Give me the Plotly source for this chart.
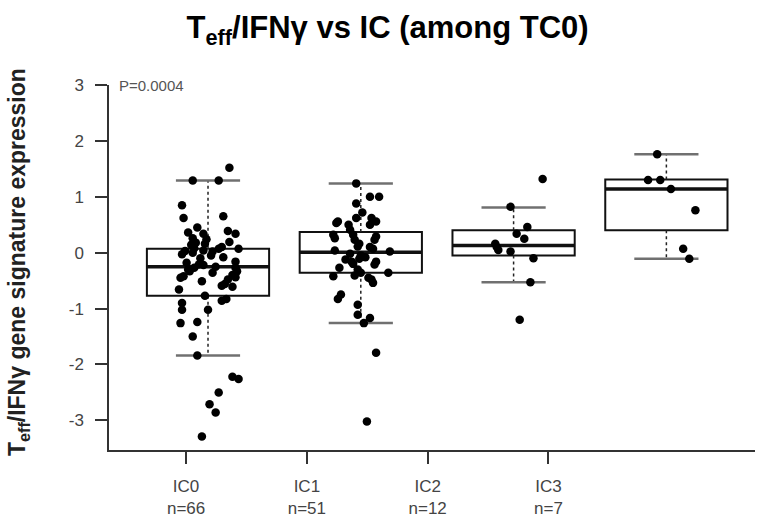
import plotly.graph_objects as go

# ---------------- data ----------------
categories = ["IC0", "IC1", "IC2", "IC3"]
counts = [66, 51, 12, 7]

y_ticks = [-3, -2, -1, 0, 1, 2, 3]
y_tick_labels = ["-3", "-2", "-1", "0", "1", "2", "3"]

q1 = [-0.77, -0.36, -0.05, 0.40]
median = [-0.25, 0.01, 0.13, 1.14]
q3 = [0.07, 0.37, 0.40, 1.31]
lower_whisker = [-1.84, -1.26, -0.53, -0.11]
upper_whisker = [1.29, 1.24, 0.81, 1.76]

ic0_values = [1.52, 1.29, 1.29, 0.85, 0.62, 0.65, 0.39, 0.34, 0.36, 0.34,
              0.26, 0.18, 0.14, 0.24, 0.16, 0.19, 0.07, 0.07, 0.10, 0.02,
              -0.05, 0.04, -0.03, 0.03, 0.00, 0.08, -0.08, -0.16, -0.21, -0.22,
              -0.27, -0.33, -0.36, -0.27, -0.33, -0.40, -0.44, -0.45, -0.42, -0.51,
              -0.56, -0.59, -0.61, -0.66, -0.77, -0.86, -0.83, -0.90, -1.02, -1.02,
              -1.26, -1.24, -1.50, -1.84, -2.22, -2.26, -2.50, -2.71, -2.86, -3.29,
              -0.30, -0.10, -0.25, -0.18, -0.48, 0.45]
ic0_jitter = [0.14, -0.10, 0.07, -0.17, -0.16, 0.10, 0.13, 0.18, -0.13, -0.03,
              -0.10, -0.08, -0.11, -0.01, -0.02, 0.14, 0.20, 0.07, 0.09, 0.03,
              0.02, -0.03, -0.17, -0.15, -0.10, -0.09, 0.10, 0.18, -0.06, -0.03,
              -0.09, -0.12, 0.03, 0.18, 0.19, 0.16, 0.18, -0.18, -0.16, -0.04,
              0.11, 0.09, 0.16, -0.19, -0.02, 0.09, 0.12, -0.17, -0.17, 0.00,
              -0.18, -0.07, -0.10, -0.07, 0.16, 0.20, 0.07, 0.01, 0.05, -0.04,
              -0.13, -0.05, 0.05, -0.14, 0.13, -0.07]

ic1_values = [1.24, 1.00, 1.00, 0.88, 0.72, 0.62, 0.56, 0.53, 0.62, 0.56,
              0.50, 0.41, 0.50, 0.32, 0.26, 0.32, 0.23, 0.29, 0.23, 0.16,
              0.11, 0.10, 0.07, 0.04, 0.02, -0.05, -0.11, -0.16, -0.20, -0.16,
              -0.21, -0.27, -0.42, -0.41, -0.36, -0.48, -0.54, -0.36, -0.75, -0.83,
              -0.93, -1.11, -1.17, -1.26, -1.79, -3.02, -0.30, -0.45, -0.02, -0.08,
              -0.12]
ic1_jitter = [-0.03, 0.06, 0.12, -0.03, 0.01, -0.03, -0.15, -0.16, 0.07, 0.10,
              -0.08, -0.07, 0.06, -0.18, -0.17, -0.05, -0.04, 0.10, 0.09, -0.01,
              -0.02, 0.06, 0.08, -0.17, 0.19, 0.00, -0.01, -0.06, -0.05, 0.10,
              0.09, -0.14, -0.18, -0.04, 0.00, 0.07, 0.08, 0.18, -0.13, -0.15,
              -0.02, -0.02, 0.06, 0.02, 0.10, 0.04, -0.02, 0.05, -0.07, 0.03,
              -0.10]

ic2_values = [1.32, 0.82, 0.46, 0.34, 0.25, 0.16, 0.05, 0.02, -0.10, -0.53, -1.20, 0.10]
ic2_jitter = [0.19, -0.02, 0.09, 0.02, 0.07, -0.12, -0.10, -0.02, 0.13, 0.11, 0.04, -0.11]

ic3_values = [1.76, 1.30, 1.30, 1.14, 0.76, 0.07, -0.11]
ic3_jitter = [-0.06, -0.12, -0.04, 0.03, 0.19, 0.11, 0.15]

p_value_label = "P=0.0004"

# ---------------- figure ----------------
positions = list(range(len(categories)))
BOX_W = 0.8
CAP_W = 0.42
FONT = "Liberation Sans, Arial, sans-serif"

fig = go.Figure()

fig.add_trace(go.Box(
    x=positions, q1=q1, median=median, q3=q3,
    lowerfence=q1, upperfence=q3,
    width=BOX_W, whiskerwidth=0, boxpoints=False,
    line=dict(color="#111111", width=2),
    fillcolor="rgba(255,255,255,0)",
    hoverinfo="skip", showlegend=False,
))

# dashed whiskers
wx, wy = [], []
for p, lo, a, b, hi in zip(positions, lower_whisker, q1, q3, upper_whisker):
    wx += [p, p, None, p, p, None]
    wy += [b, hi, None, a, lo, None]
fig.add_trace(go.Scatter(x=wx, y=wy, mode="lines",
                         line=dict(color="#222222", width=1.5, dash="3px,3px"),
                         hoverinfo="skip", showlegend=False))

# whisker caps
cx, cy = [], []
for p, lo, hi in zip(positions, lower_whisker, upper_whisker):
    cx += [p - CAP_W / 2, p + CAP_W / 2, None, p - CAP_W / 2, p + CAP_W / 2, None]
    cy += [hi, hi, None, lo, lo, None]
fig.add_trace(go.Scatter(x=cx, y=cy, mode="lines",
                         line=dict(color="#707070", width=2.5),
                         hoverinfo="skip", showlegend=False))

# thick medians
mx, my = [], []
for p, m in zip(positions, median):
    mx += [p - BOX_W / 2, p + BOX_W / 2, None]
    my += [m, m, None]
fig.add_trace(go.Scatter(x=mx, y=my, mode="lines",
                         line=dict(color="#111111", width=3.5),
                         hoverinfo="skip", showlegend=False))

# points
groups = [(ic0_values, ic0_jitter), (ic1_values, ic1_jitter),
          (ic2_values, ic2_jitter), (ic3_values, ic3_jitter)]
for p, (vals, jit) in zip(positions, groups):
    fig.add_trace(go.Scatter(
        x=[p + j for j in jit], y=vals, mode="markers",
        marker=dict(color="#000000", size=8.5),
        hoverinfo="y", showlegend=False))

# invisible trace for the category tick axis
fig.add_trace(go.Scatter(x=categories, y=median, xaxis="x2", mode="markers",
                         marker=dict(opacity=0), hoverinfo="skip", showlegend=False))

tick_text = [f"{c}<br>n={n}" for c, n in zip(categories, counts)]

fig.update_layout(
    width=760, height=522,
    margin=dict(l=109, r=5, t=85, b=72),
    paper_bgcolor="white", plot_bgcolor="white",
    font=dict(family=FONT, color="#444444"),
    title=dict(text="<b>T<sub>eff</sub>/IFNγ vs IC (among TC0)</b>",
               x=0.51, xanchor="center", xref="container",
               y=0.948, yanchor="middle", yref="container",
               font=dict(family=FONT, size=31, color="#000000")),
    xaxis=dict(domain=[0, 1], range=[-0.648, 3.58], visible=False, anchor="y"),
    xaxis2=dict(overlaying="x", side="bottom", anchor="y", type="category",
                range=[-0.638, 4.71], tickvals=categories, ticktext=tick_text,
                ticks="outside", ticklen=12, tickwidth=1.5, tickcolor="#333333",
                showline=True, linecolor="#333333", linewidth=1.5,
                showgrid=False, zeroline=False, ticklabelstandoff=8,
                automargin=False,
                tickfont=dict(size=17, color="#444444")),
    yaxis=dict(range=[-3.53, 3.0], tickvals=y_ticks, ticktext=y_tick_labels,
               ticks="outside", ticklen=12, tickwidth=1.5, tickcolor="#333333",
               showline=True, linecolor="#333333", linewidth=1.5,
               showgrid=False, zeroline=False, ticklabelstandoff=8,
               automargin=False,
               tickfont=dict(size=17, color="#444444")),
    annotations=[
        dict(text=p_value_label, xref="paper", yref="y", x=0.012, y=3.0,
             xanchor="left", yanchor="middle", showarrow=False,
             font=dict(size=15, color="#555555")),
        dict(text="<b>T<sub>eff</sub>/IFNγ gene signature expression</b>",
             xref="paper", yref="paper", x=-0.141, y=0.515, textangle=-90,
             xanchor="center", yanchor="middle", showarrow=False,
             font=dict(size=23, color="#222222")),
    ],
)

fig.write_html("out.html", config={"displayModeBar": False},
               post_script="document.body.style.margin='0px';")
